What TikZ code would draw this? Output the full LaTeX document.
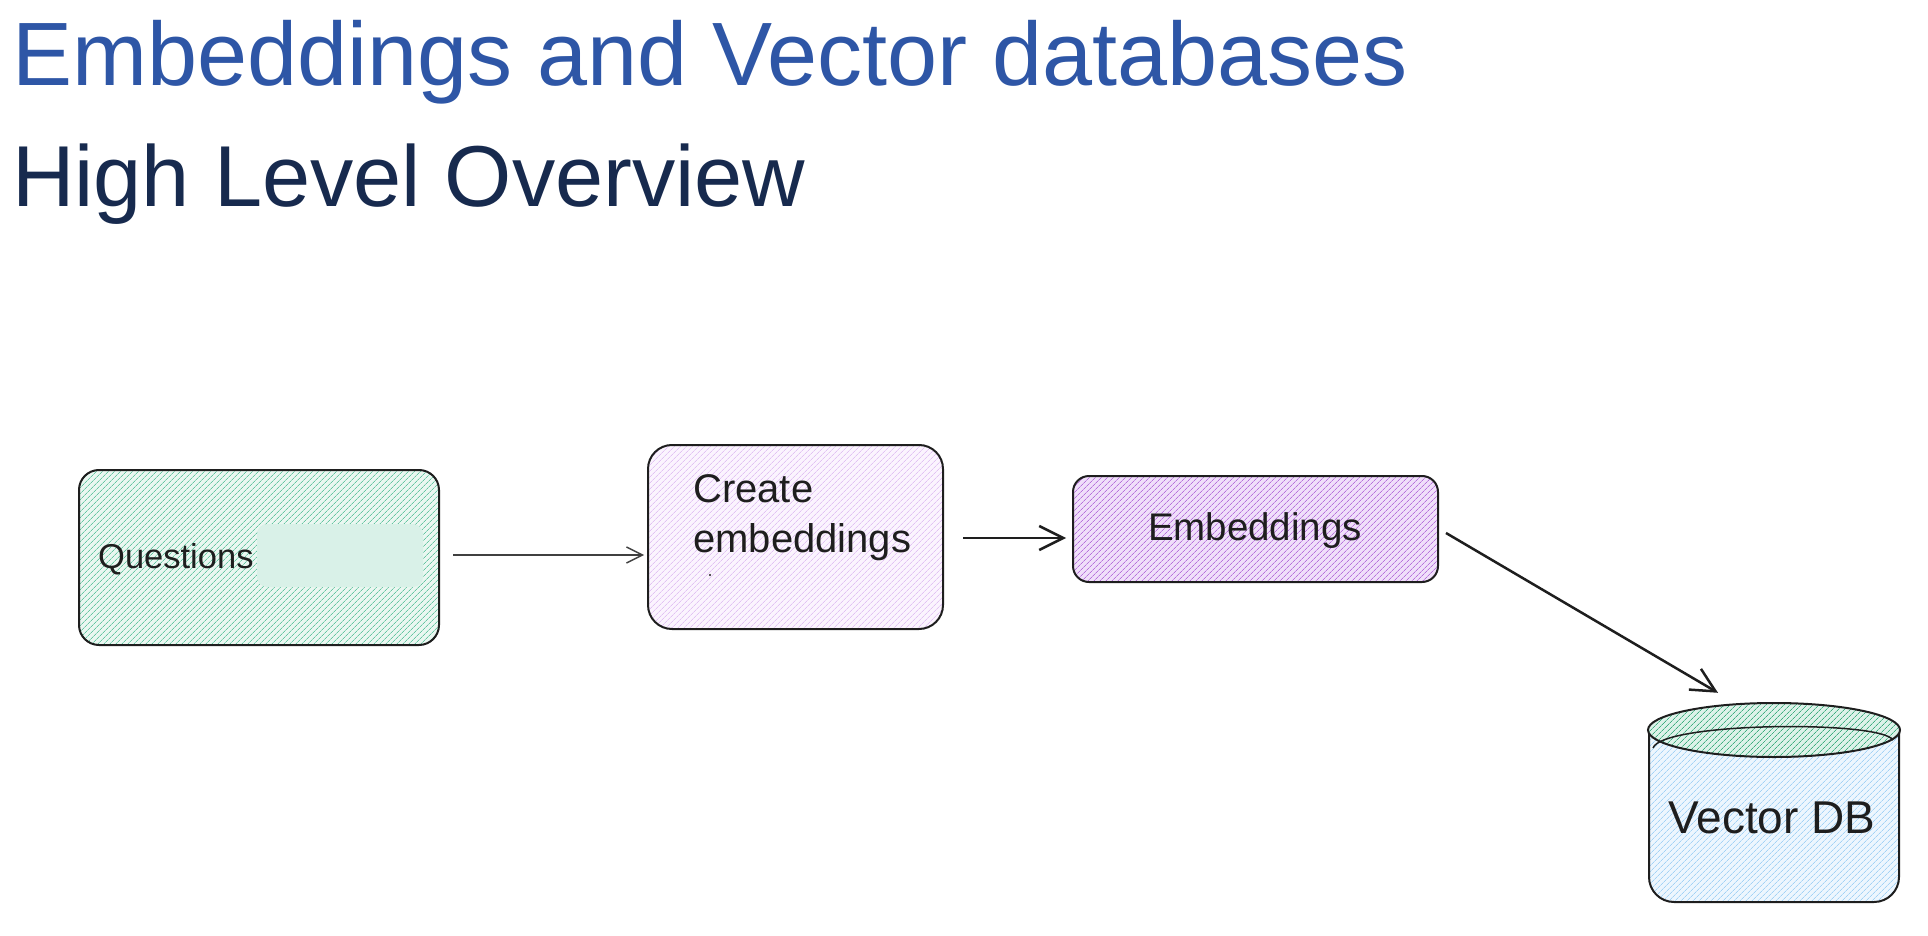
\documentclass[tikz,border=0pt]{standalone}
\usepackage{fontspec}
\setmainfont{Liberation Sans}
\usetikzlibrary{patterns.meta,arrows.meta,calc}
\definecolor{titleblue}{HTML}{2E56A6}
\definecolor{subnavy}{HTML}{172A4E}
\definecolor{ink}{HTML}{1E1E1E}
\definecolor{qfill}{HTML}{EAF7F1}
\definecolor{qline}{HTML}{66C6A2}
\definecolor{qinner}{HTML}{D9F1E8}
\definecolor{cfill}{HTML}{FBF4FE}
\definecolor{cline}{HTML}{E1C2F3}
\definecolor{efill}{HTML}{F0DFFA}
\definecolor{eline}{HTML}{B672DB}
\definecolor{dbfill}{HTML}{EDF6FE}
\definecolor{dbline}{HTML}{A3D2F5}
\definecolor{topline}{HTML}{3FAE80}
\definecolor{topfill}{HTML}{DDF2E9}
\begin{document}
\begin{tikzpicture}[x=1pt,y=-1pt,
  boxstyle/.style={draw=ink, line width=2pt, inner sep=0pt},
  hatch/.style 2 args={preaction={fill=#1}, pattern={Lines[angle=45,distance=4pt,line width=0.8pt]}, pattern color=#2},
  lbl/.style={inner sep=0pt, text=ink},
  thinarrow/.style={draw=ink!85, line width=1.4pt, -{Straight Barb[length=16pt,width=16pt,line width=1.4pt]}},
  thickarrow/.style={draw=ink, line width=2.5pt, -{Straight Barb[length=24pt,width=24pt,line width=2.5pt]}}]
\useasboundingbox (0,0) rectangle (1928,936);

% titles
\node[anchor=base west, inner sep=0pt, text=titleblue, font=\fontsize{90}{100}\selectfont] (title) at (12,86) {Embeddings and Vector databases};
\node[anchor=base west, inner sep=0pt, text=subnavy, font=\fontsize{86.5}{100}\selectfont] (subtitle) at (12,207) {High Level Overview};

% Questions box
\node[boxstyle, rounded corners=20pt, minimum width=360pt, minimum height=175pt, hatch={qfill}{qline}] (q) at (259,557.5) {};
\node[fill=qinner, rounded corners=10pt, minimum width=166pt, minimum height=63pt, inner sep=0pt] (qin) at (340,555.5) {};
\node[lbl, anchor=base west, font=\fontsize{34.5}{40}\selectfont] (qtext) at (98,568) {Questions};

% Create embeddings box
\node[boxstyle, rounded corners=24pt, minimum width=295pt, minimum height=184pt, hatch={cfill}{cline}] (create) at (795.5,537) {};
\node[lbl, anchor=base west, font=\fontsize{40}{46}\selectfont] (ct1) at (693,502) {Create};
\node[lbl, anchor=base west, font=\fontsize{40}{46}\selectfont] (ct2) at (693,552) {embeddings};
\fill[ink] (710,575) circle[radius=1.2pt];

% Embeddings box
\node[boxstyle, rounded corners=16pt, minimum width=365pt, minimum height=106pt, hatch={efill}{eline}] (emb) at (1255.5,529) {};
\node[lbl, anchor=base, font=\fontsize{38.5}{46}\selectfont] (etext) at (1255,540) {Embeddings};

% Vector DB cylinder
\node[minimum width=252pt, minimum height=199pt, inner sep=0pt] (db) at (1774,802.5) {};
\path[draw=ink, line width=2pt, rounded corners=25pt, hatch={dbfill}{dbline}] (1649,730) -- (1649,902) -- (1899,902) -- (1899,730);
\path[draw=ink, line width=2pt, hatch={topfill}{topline}] (1774,730) ellipse[x radius=126, y radius=27];
\draw[ink, line width=1.5pt] (1653,748) .. controls (1662,722) and (1880,720) .. (1893,740);
\node[lbl, anchor=base, font=\fontsize{46}{52}\selectfont] (dbtext) at (1772,833) {Vector DB};

% connectors
\draw[thinarrow] ([shift={(14,-2.5)}]q.east) -- ([shift={(-3,18)}]create.west);
\draw[thickarrow] ([shift={(19,1)}]create.east) -- ([shift={(-6,9)}]emb.west);
\draw[thickarrow] ([shift={(7,4)}]emb.east) -- ([shift={(-56,-10)}]db.north);
\end{tikzpicture}
\end{document}
